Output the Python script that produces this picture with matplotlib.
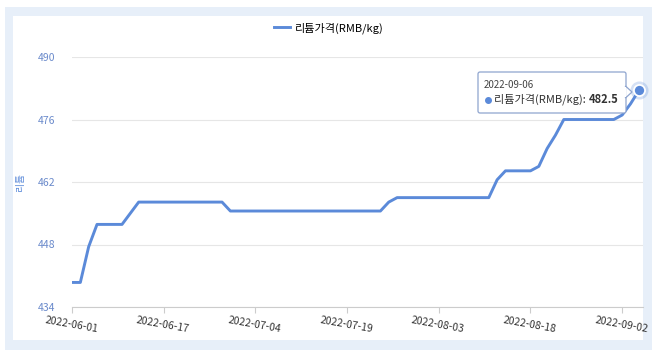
import numpy as np
import pandas as pd
import matplotlib
matplotlib.use("Agg")
import matplotlib.pyplot as plt
from matplotlib.patches import Rectangle, FancyBboxPatch, Polygon

plt.rcParams["font.family"] = ["Noto Sans CJK KR", "DejaVu Sans"]

# trading days 2022-06-01 .. 2022-09-06 (06-03 holiday)
HOLIDAYS = ["2022-06-03"]
dates = [d.strftime("%Y-%m-%d") for d in pd.bdate_range("2022-06-01", "2022-09-06")
         if d.strftime("%Y-%m-%d") not in HOLIDAYS]

prices = ([439.5, 439.5, 447.5, 452.5, 452.5, 452.5, 452.5, 455.0]
          + [457.5] * 11
          + [455.5] * 19
          + [457.5]
          + [458.5] * 12
          + [462.5]
          + [464.5] * 4
          + [465.5, 469.5, 472.5]
          + [476.0] * 7
          + [477.0, 479.5, 482.5])

tick_labels = ["2022-06-01", "2022-06-17", "2022-07-04", "2022-07-19",
               "2022-08-03", "2022-08-18", "2022-09-02"]
y_ticks = [434, 448, 462, 476, 490]

SERIES = "리튬가격(RMB/kg)"
LINE = "#5b8ad9"
W, H = 658, 355

fig = plt.figure(figsize=(W / 100, H / 100), dpi=100)

# background frame
bg = fig.add_axes([0, 0, 1, 1], zorder=-5)
bg.set_xlim(0, W)
bg.set_ylim(H, 0)
bg.axis("off")
bg.add_patch(Rectangle((5, 7), 647, 343, color="#e7eff9", lw=0))
bg.add_patch(Rectangle((13, 16), 630, 324, color="white", lw=0))

ax = fig.add_axes([72 / W, (H - 307) / H, 571 / W, 250 / H])
ax.set_facecolor("none")
x = np.arange(len(prices))
ax.plot(x, prices, color=LINE, lw=2.1, label=SERIES, solid_joinstyle="round")
ax.plot(x[-1], prices[-1], "o", ms=13, color=LINE, alpha=0.25, mew=0, clip_on=False)
ax.plot(x[-1], prices[-1], "o", ms=8, mfc=LINE, mec="white", mew=1.3, clip_on=False)

ax.set_xlim(0, 68.5)
ax.set_ylim(434, 490)
ax.set_yticks(y_ticks)
ax.set_xticks([dates.index(t) for t in tick_labels])
ax.set_xticklabels(tick_labels, rotation=-10, ha="center", rotation_mode="anchor")
ax.tick_params(axis="y", length=0, pad=12, labelsize=7.5, labelcolor="#6a8acb")
ax.tick_params(axis="x", length=4, width=0.8, color="#cccccc", pad=5,
               labelsize=7.5, labelcolor="#333333")
ax.grid(axis="y", color="#e6e6e6", lw=0.8)
ax.set_axisbelow(True)
for s in ["top", "right", "left"]:
    ax.spines[s].set_visible(False)
ax.spines["bottom"].set_color("#cccccc")

ax.set_ylabel("리튬", color="#5b8ad9", fontsize=7)
ax.yaxis.set_label_coords(-0.082, 0.5)

fig.legend(loc="center", bbox_to_anchor=(0.5, 1 - 28 / H), frameon=False,
           handlelength=1.4, handletextpad=0.5, fontsize=8)

# tooltip
ov = fig.add_axes([0, 0, 1, 1], zorder=5)
ov.set_xlim(0, W)
ov.set_ylim(H, 0)
ov.axis("off")
ov.add_patch(FancyBboxPatch((478, 72), 148, 41, boxstyle="round,pad=0,rounding_size=2",
                            fc="white", ec="#8fa5cf", lw=0.9))
ov.add_patch(Polygon([(625.5, 86), (632, 92), (625.5, 98)], closed=True,
                     fc="white", ec="#8fa5cf", lw=0.9))
ov.add_patch(Rectangle((624, 86.8), 2.2, 10.4, color="white", lw=0))
ov.text(484, 85.5, "2022-09-06", fontsize=7, color="#444444", va="center")
ov.plot(488, 99.5, "o", ms=4, color=LINE)
t1 = ov.text(494, 99.5, SERIES + ": ", fontsize=8, color="#333333", va="center")
ov.annotate(f"{prices[-1]}", xy=(1, 0.5), xycoords=t1, va="center", ha="left",
            fontsize=8, fontweight="bold", color="#333333")

fig.savefig("out.png", dpi=100)
